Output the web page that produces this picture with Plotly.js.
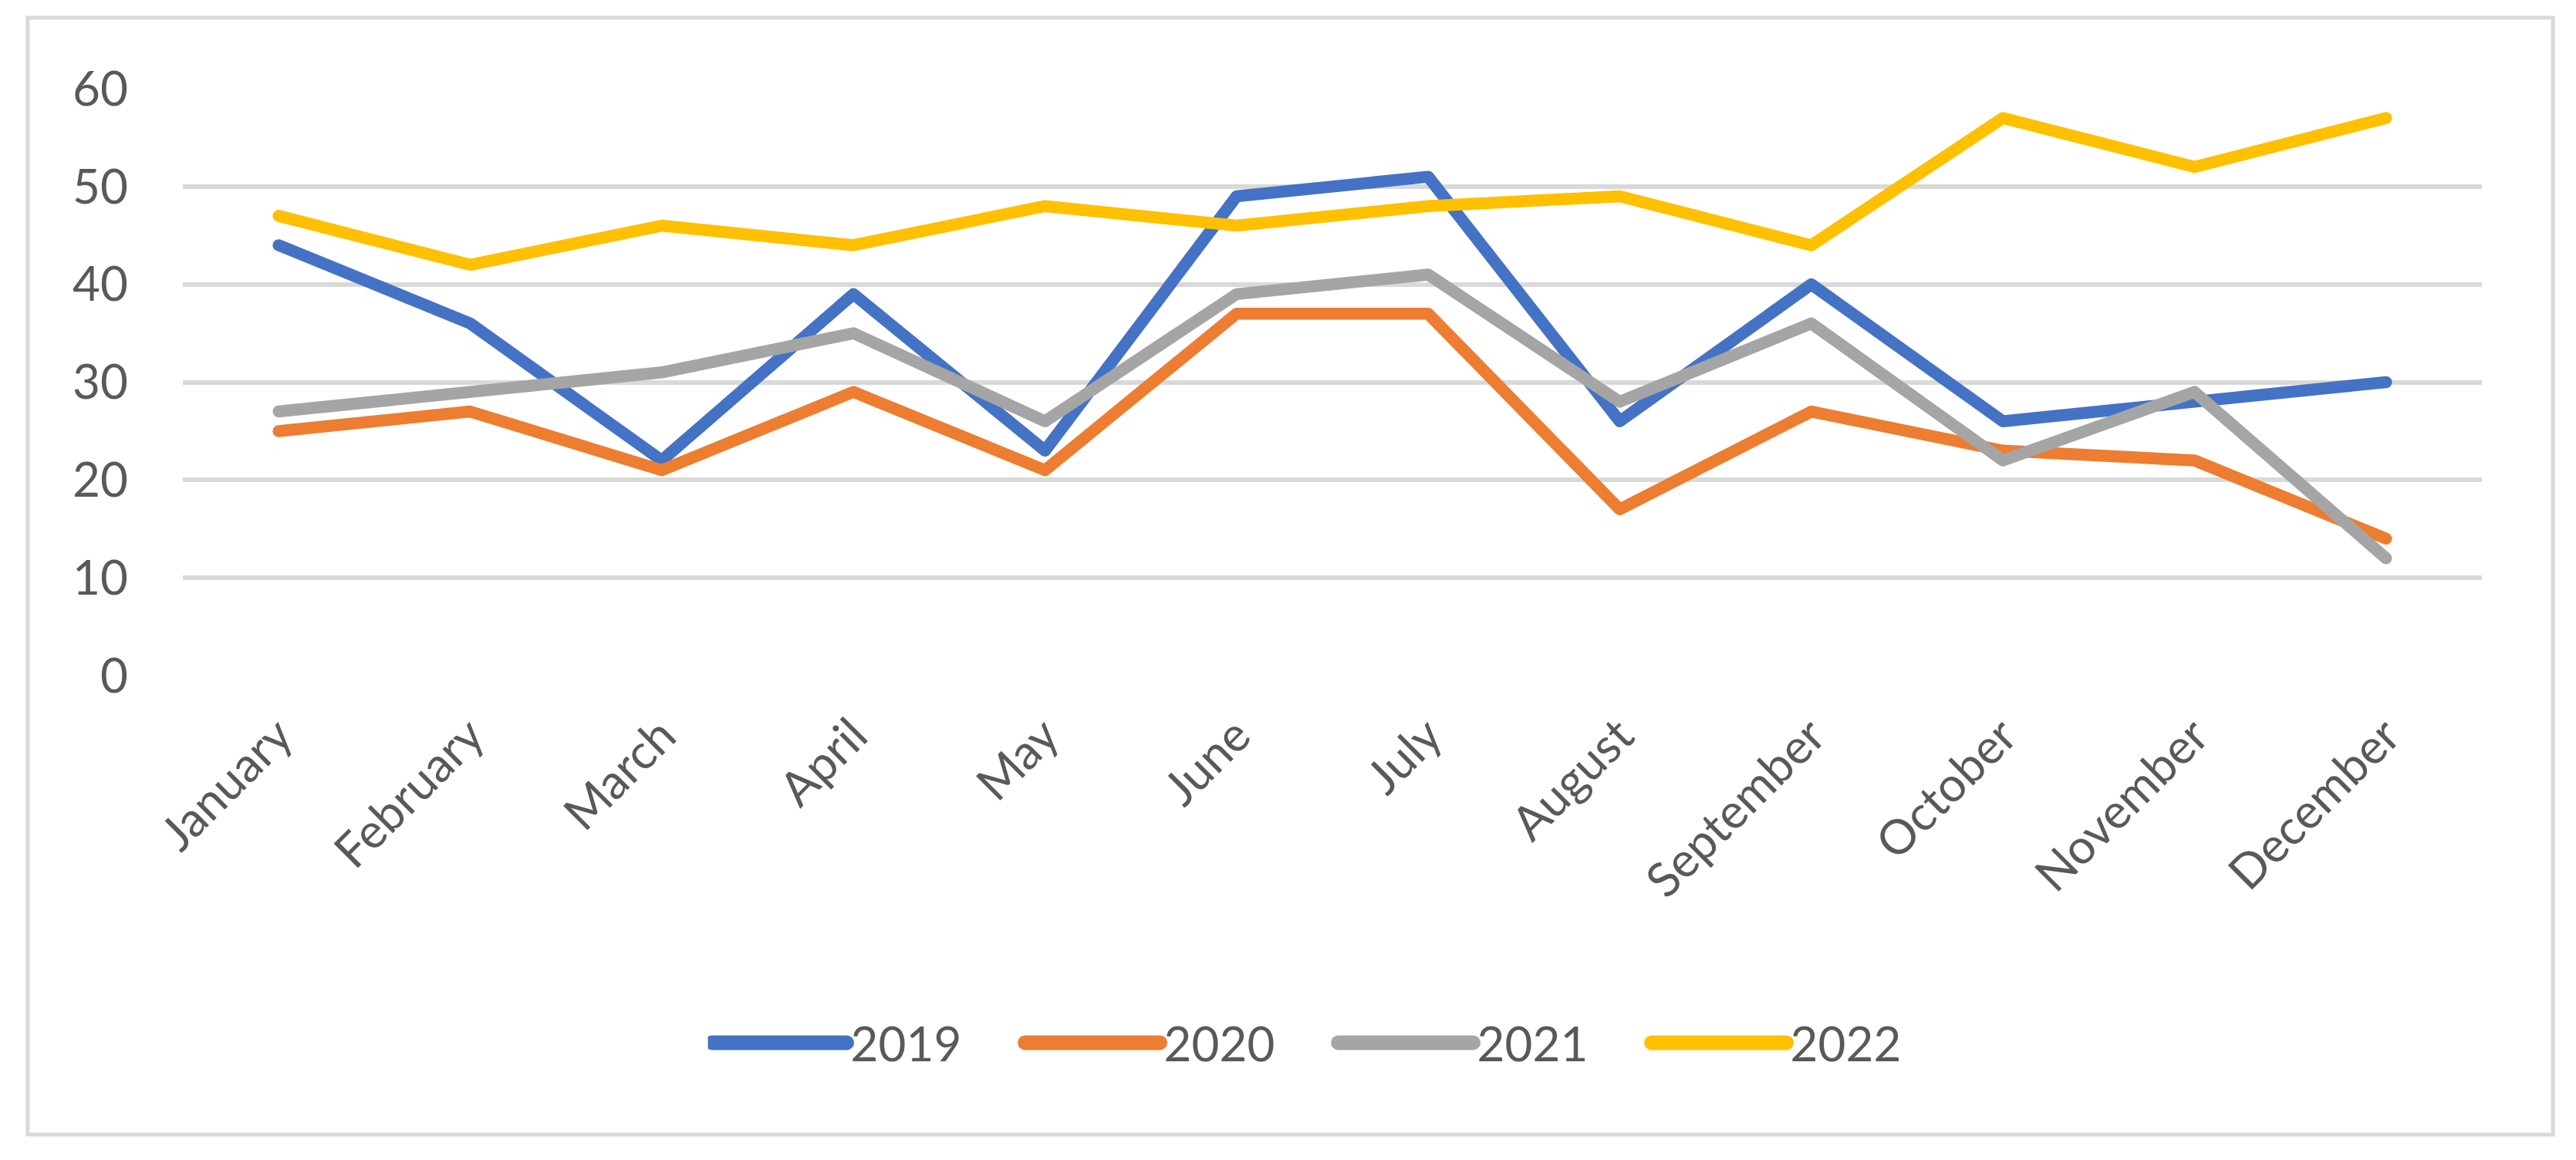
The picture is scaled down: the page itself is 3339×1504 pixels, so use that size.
<!DOCTYPE html>
<html>
<head>
<meta charset="utf-8">
<script src="https://cdn.plot.ly/plotly-3.0.1.min.js"></script>
<style>
html,body{margin:0;padding:0;background:#fff;}
#chart{width:3339px;height:1504px;}
.scatterlayer path.js-line{stroke-linecap:round !important;stroke-linejoin:round !important;}
.legendlines path.js-line{stroke-linecap:round !important;stroke-width:19px !important;}
</style>
</head>
<body>
<div id="chart"></div>
<script>
const months = ["January","February","March","April","May","June","July","August","September","October","November","December"];
const s2019 = [44,36,22,39,23,49,51,26,40,26,28,30];
const s2020 = [25,27,21,29,21,37,37,17,27,23,22,14];
const s2021 = [27,29,31,35,26,39,41,28,36,22,29,12];
const s2022 = [47,42,46,44,48,46,48,49,44,57,52,57];
const seriesNames = ["2019","2020","2021","2022"];
const yTicks = [0,10,20,30,40,50,60];

const colors = ["#4472C4","#ED7D31","#A5A5A5","#FFC000"];
const allSeries = [s2019,s2020,s2021,s2022];
const font = "Lato, 'Open Sans', sans-serif";

const traces = allSeries.map((s,i)=>({
  type:"scatter", mode:"lines", x:months, y:s, name:seriesNames[i],
  line:{color:colors[i], width:15.5}
}));

const layout = {
  width:3339, height:1504,
  margin:{l:237, r:122, t:115, b:628},
  paper_bgcolor:"#fff", plot_bgcolor:"#fff",
  font:{family:font, color:"#595959", size:62},
  showlegend:true,
  legend:{orientation:"h", xref:"container", yref:"container", x:0.518, xanchor:"center", y:0.101, yanchor:"middle",
    font:{family:font, size:62, color:"#595959"}, itemwidth:175, entrywidth:216, entrywidthmode:"pixels", traceorder:"normal"},
  xaxis:{type:"category", range:[-0.5,11.5], showgrid:false, zeroline:false, showline:false, ticks:"",
    tickangle:-45, tickfont:{family:font, size:62, color:"#595959"}, ticklabelstandoff:28, fixedrange:true},
  yaxis:{range:[0,60], tickvals:yTicks, ticktext:yTicks.map(String), showgrid:true, gridcolor:"#D9D9D9", gridwidth:6,
    zeroline:false, showline:false, ticks:"", tickfont:{family:font, size:62, color:"#595959"}, ticklabelstandoff:70, fixedrange:true},
  shapes:[{type:"rect", xref:"paper", yref:"paper", x0:-0.0675, x1:1.0309, y0:-0.7819, y1:1.1209,
    line:{color:"#D9D9D9", width:5}, fillcolor:"rgba(0,0,0,0)", layer:"below"}]
};
Plotly.newPlot("chart", traces, layout, {staticPlot:true, displayModeBar:false});
</script>
</body>
</html>
